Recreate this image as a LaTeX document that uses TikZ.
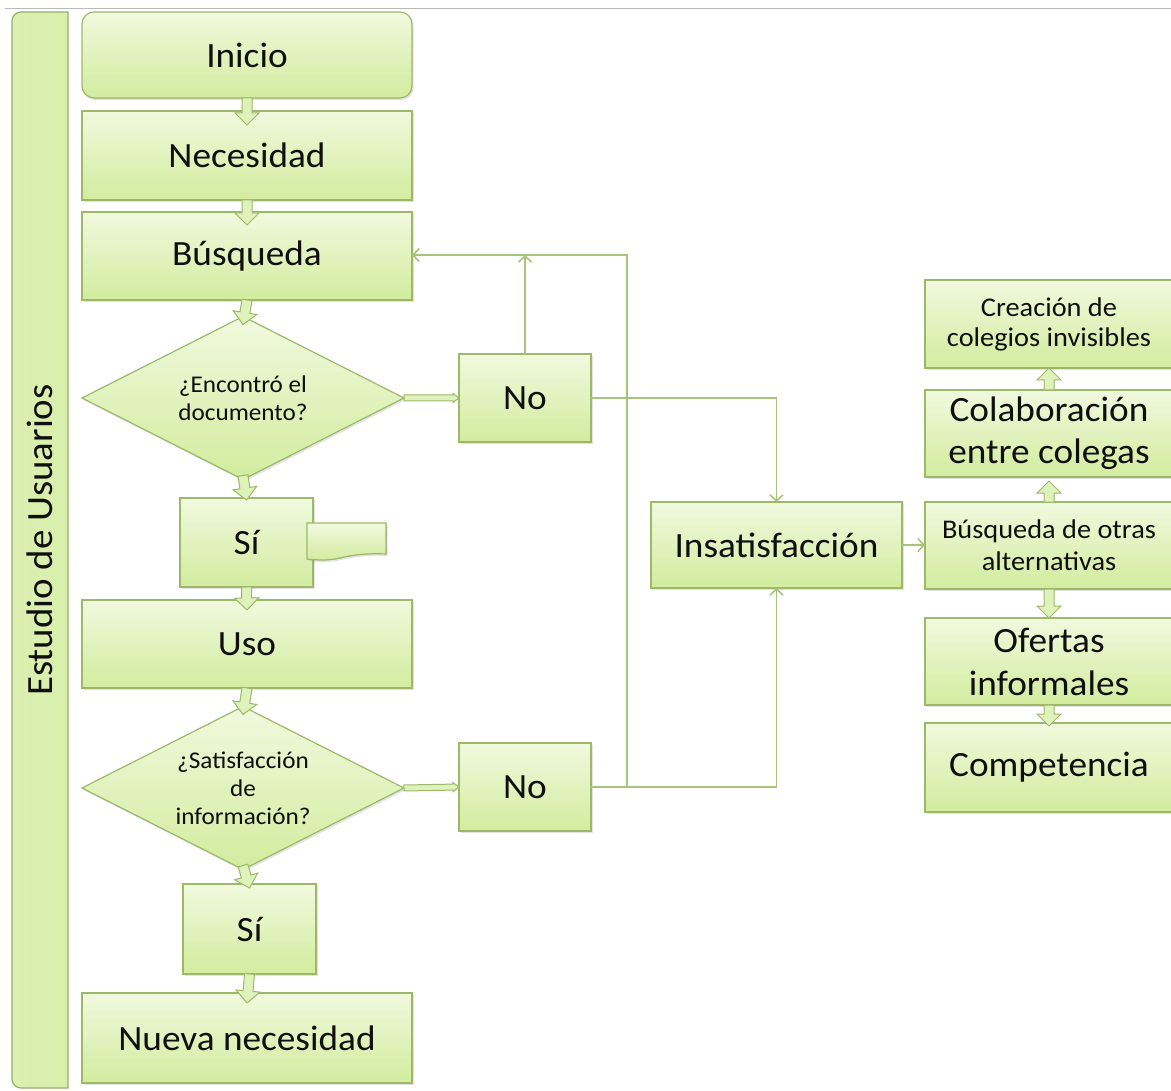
\documentclass[tikz,border=0pt]{standalone}
\usepackage{fontspec}
\setmainfont{Carlito}[FakeStretch=1.05]
\usetikzlibrary{calc,arrows.meta,shapes.geometric,shadows}
\definecolor{gTop}{RGB}{241,249,222}
\definecolor{gBot}{RGB}{210,236,158}
\definecolor{gEdge}{RGB}{156,184,104}
\definecolor{gLine}{RGB}{168,196,124}
\definecolor{txt}{RGB}{15,15,15}
\tikzset{
  box/.style={draw=gEdge, line width=1.2pt, top color=gTop, bottom color=gBot,
    inner sep=0pt, outer sep=0pt, anchor=north west, text=txt, align=center,
    drop shadow={shadow xshift=1.5pt, shadow yshift=-2pt, opacity=.22}},
  big/.style={font=\fontsize{35.5}{42}\selectfont},
  small/.style={font=\fontsize{27}{30}\selectfont},
  dia/.style={box, diamond, anchor=center, aspect=2,
    minimum width=322pt, minimum height=163pt, font=\fontsize{24}{28}\selectfont},
  conn/.style={draw=gLine, line width=1.6pt, -{Straight Barb[length=6pt,width=13pt]}},
  barrowsty/.style={draw=gEdge, line width=1pt, fill=gTop!45!gBot},
  lanesty/.style={draw=gEdge!80!gray, line width=1.2pt, left color=gBot!70!gTop,
    middle color=gTop, right color=gBot!80!gTop},
}
\newcommand\fatarrow[5]{%
  \coordinate (fas) at (#1);
  \coordinate (fat) at (#2);
  \coordinate (fah) at ($(fat)!#5!(fas)$);
  \filldraw[barrowsty] ($(fas)!#3!90:(fat)$) -- ($(fah)!#3!-90:(fas)$)
    -- ($(fah)!#4!-90:(fas)$) -- (fat) -- ($(fah)!#4!90:(fas)$)
    -- ($(fah)!#3!90:(fas)$) -- ($(fas)!#3!-90:(fat)$) -- cycle;}
\begin{document}
\begin{tikzpicture}[x=1pt,y=-1pt]
\useasboundingbox (0,0) rectangle (1171,1091);
% frame line and lane
\draw[gray!55, line width=1pt] (5,9) -- (1171,9);
\path[lanesty] (68,12) -- (21,12) .. controls (16,12) and (12,16) .. (12,21)
  -- (12,1079) .. controls (12,1084) and (16,1088) .. (21,1088) -- (68,1088) -- cycle;
\node[rotate=90, text=txt, font=\fontsize{37}{40}\selectfont] (lane) at (40,540) {Estudio de Usuarios};
% left column
\node[box,big,rounded corners=12pt,minimum width=330pt,minimum height=86pt] (inicio) at (82,12) {Inicio};
\node[box,big,minimum width=330pt,minimum height=89pt] (nec) at (82,111) {Necesidad};
\node[box,big,minimum width=330pt,minimum height=88pt] (busq) at (82,212) {Búsqueda};
\node[dia] (d1) at (243,398) {¿Encontró el\\documento?};
\node[box,big,minimum width=132pt,minimum height=88pt] (no1) at (459,354) {No};
\node[box,big,minimum width=133pt,minimum height=89pt] (si1) at (180,498) {Sí};
\filldraw[draw=gEdge, line width=1.2pt, top color=gTop, bottom color=gBot,
  drop shadow={shadow xshift=1.5pt, shadow yshift=-2pt, opacity=.22}]
  (307,523) -- (386,523) -- (386,554) .. controls (368,553) and (352,555) .. (340,558)
  .. controls (328,561) and (316,560) .. (307,559) -- cycle;
\node[box,big,minimum width=330pt,minimum height=88pt] (uso) at (82,600) {Uso};
\node[dia] (d2) at (243,788) {¿Satisfacción\\de\\información?};
\node[box,big,minimum width=132pt,minimum height=88pt] (no2) at (459,743) {No};
\node[box,big,minimum width=133pt,minimum height=90pt] (si2) at (183,884) {Sí};
\node[box,big,minimum width=330pt,minimum height=90pt] (nueva) at (82,993) {Nueva necesidad};
% middle
\node[box,big,minimum width=251pt,minimum height=86pt] (ins) at (651,502) {Insatisfacción};
% right column
\node[box,small,minimum width=248pt,minimum height=88pt] (cre) at (925,280) {Creación de\\colegios invisibles};
\node[box,big,minimum width=248pt,minimum height=87pt] (col) at (925,390) {Colaboración\\entre colegas};
\node[box,font=\fontsize{27}{32}\selectfont,minimum width=248pt,minimum height=87pt] (otras) at (925,502) {Búsqueda de otras\\alternativas};
\node[box,font=\fontsize{35.5}{43}\selectfont,minimum width=248pt,minimum height=87pt] (ofe) at (925,618) {Ofertas\\informales};
\node[box,big,minimum width=248pt,minimum height=89pt] (comp) at (925,723) {Competencia};
% block arrows
\fatarrow{inicio.south}{$(nec.north)+(0,14)$}{5pt}{12pt}{12pt}
\fatarrow{nec.south}{$(busq.north)+(0,13)$}{5pt}{12pt}{12pt}
\fatarrow{busq.south}{$(d1.north)+(0,8)$}{5pt}{12pt}{12pt}
\fatarrow{$(d1.south)+(0,-4)$}{$(si1.north)+(0,2)$}{5pt}{12pt}{12pt}
\fatarrow{si1.south}{$(uso.north)+(0,10)$}{5pt}{12pt}{12pt}
\fatarrow{uso.south}{$(d2.north)+(0,8)$}{5pt}{12pt}{12pt}
\fatarrow{$(d2.south)+(0,-4)$}{$(si2.north)+(0,4)$}{5pt}{12pt}{12pt}
\fatarrow{si2.south}{$(nueva.north)+(0,10)$}{5pt}{12pt}{12pt}
\fatarrow{otras.north}{$(col.south)+(0,4)$}{5pt}{12pt}{12pt}
\fatarrow{col.north}{cre.south}{5pt}{12pt}{12pt}
\fatarrow{otras.south}{ofe.north}{5pt}{12pt}{12pt}
\fatarrow{ofe.south}{$(comp.north)+(0,3)$}{5pt}{12pt}{12pt}
% diamond to No connectors
\fatarrow{d1.east}{no1.west}{3pt}{4.5pt}{6pt}
\fatarrow{d2.east}{no2.west}{3pt}{4.5pt}{6pt}
% thin connectors
\coordinate (jA) at (627,255);
\draw[conn] (no2.east) -| (jA) -- (busq.east |- jA);
\draw[conn] (no1.north) -- (no1.north |- jA);
\draw[conn] (no1.east) -| (ins.north);
\draw[conn] (no2.east) -| (ins.south);
\draw[conn] (ins.east) -- (otras.west |- ins.east);
\end{tikzpicture}
\end{document}
